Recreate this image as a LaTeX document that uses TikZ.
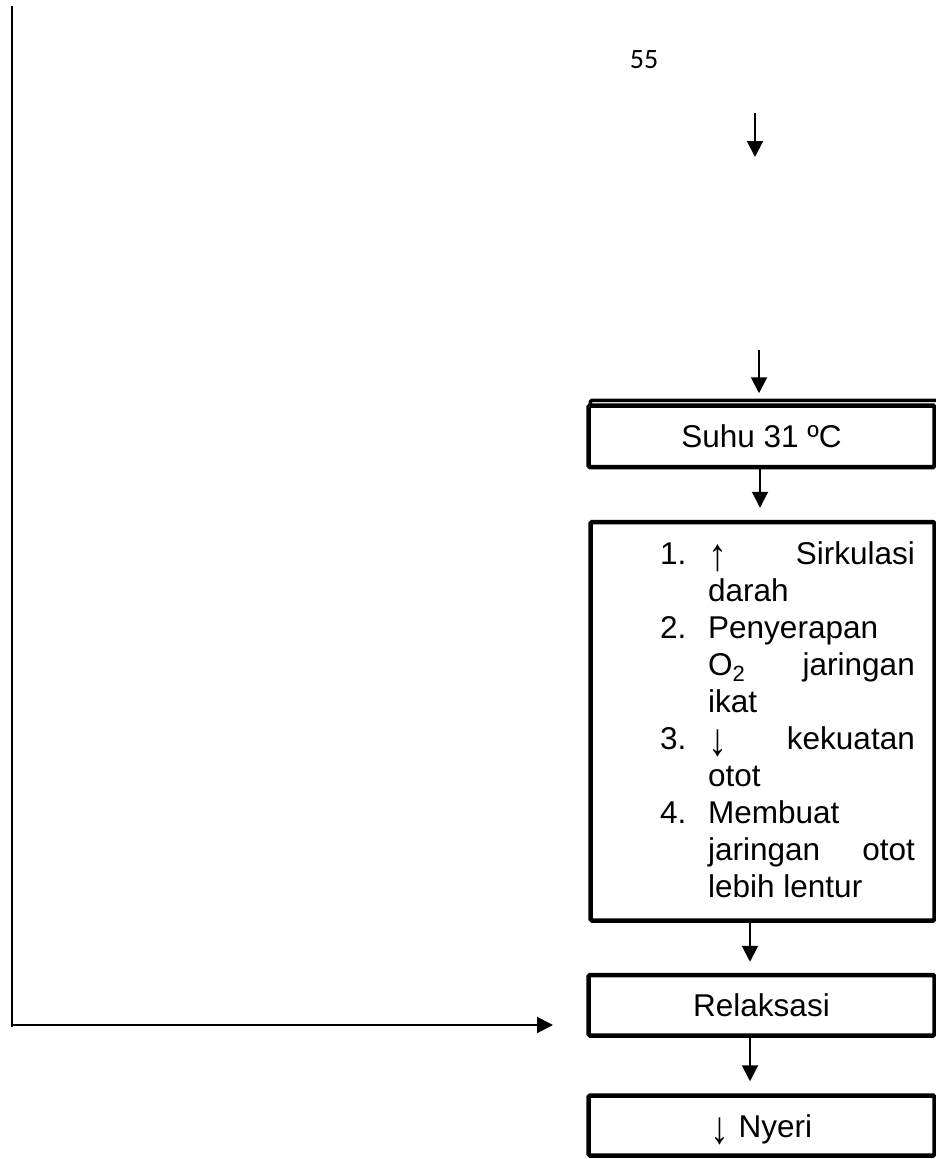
\documentclass[tikz,border=0pt]{standalone}
\usepackage{fontspec}
\setmainfont{Liberation Sans}
\newfontfamily\pagenumfont{Carlito}
\usetikzlibrary{arrows.meta,calc}
\newcommand{\uparr}{\raisebox{-6.5pt}{\scalebox{1.2}[1.45]{↑}}}
\newcommand{\downarr}{\raisebox{-6.5pt}{\scalebox{1.2}[1.45]{↓}}}
\tikzset{
  box/.style={draw, line width=4.5pt, rounded corners=1.5pt, inner sep=0pt,
    text height=23pt, text depth=0pt, font=\fontsize{31.5}{37}\selectfont},
  arr/.style={line width=2pt, -{Triangle[width=16pt,length=16pt]}},
  plain/.style={line width=2pt},
  ltxt/.style={inner sep=0pt, anchor=base west, font=\fontsize{31.5}{37}\selectfont},
  rtxt/.style={inner sep=0pt, anchor=base east, font=\fontsize{31.5}{37}\selectfont}
}
\begin{document}
\begin{tikzpicture}[x=1pt,y=-1pt]
\useasboundingbox (0,0) rectangle (936,1159);
\fill[white] (0,0) rectangle (936,1159);

% page number
\node[inner sep=0pt, anchor=base, font=\pagenumfont\fontsize{28}{30}\selectfont] (pgnum) at (644,68) {55};

% boxes
\node[box, minimum width=346pt, minimum height=61.5pt] (suhu) at (761.5,436.25) {Suhu 31 ºC};
\draw[line width=3.5pt, rounded corners=1.5pt] ($(suhu.north west)+(4,2)$) -- ($(suhu.north west)+(4,-3)$) -- ($(suhu.north east)+(12,-3)$);
\node[box, minimum width=344pt, minimum height=398.5pt] (list) at (762.5,721.25) {};
\node[box, minimum width=346pt, minimum height=60.5pt] (rel) at (761.5,1005.25) {Relaksasi};
\node[box, minimum width=346pt, minimum height=60pt] (nyeri) at (761.5,1125.5) {\downarr\ Nyeri};

% list text
\node[ltxt] (n1) at (660,564) {1.};
\node[ltxt] (t1a) at (708,564) {\uparr};
\node[rtxt] (t1b) at (915,564) {Sirkulasi};
\node[ltxt] (t2) at (708,601) {darah};
\node[ltxt] (n2) at (660,638) {2.};
\node[ltxt] (t3) at (708,638) {Penyerapan};
\node[ltxt] (t4a) at (708,675) {O\textsubscript{2}};
\node[rtxt] (t4b) at (915,675) {jaringan};
\node[ltxt] (t5) at (708,712) {ikat};
\node[ltxt] (n3) at (660,749) {3.};
\node[ltxt] (t6a) at (708,749) {\downarr};
\node[rtxt] (t6b) at (915,749) {kekuatan};
\node[ltxt] (t7) at (708,786) {otot};
\node[ltxt] (n4) at (660,823) {4.};
\node[ltxt] (t8) at (708,823) {Membuat};
\node[ltxt] (t9a) at (708,860) {jaringan};
\node[rtxt] (t9b) at (915,860) {otot};
\node[ltxt] (t10) at (708,897) {lebih lentur};

% arrows
\coordinate (c1a) at (755,113);
\coordinate (c1b) at (755,157);
\draw[arr] (c1a) -- (c1b);
\coordinate (c2) at (759,350);
\draw[arr, shorten >=10pt] (c2) -- (c2 |- suhu.north);
\draw[arr, shorten >=12pt] ([xshift=-1.5pt]suhu.south) -- ([xshift=-1.5pt]suhu.south |- list.north);
\draw[arr, shorten >=11pt] ([xshift=-12.5pt]list.south) -- ([xshift=-12.5pt]list.south |- rel.north);
\draw[arr, shorten >=12pt] ([xshift=-11.5pt]rel.south) -- ([xshift=-11.5pt]rel.south |- nyeri.north);

% left feedback line
\coordinate (lt) at (12,6);
\coordinate (lb) at (12,1027);
\coordinate (lh) at (12,1025);
\coordinate (lend) at (553,1025);
\draw[plain] (lt) -- (lb);
\draw[arr] (lh) -- (lend);
\end{tikzpicture}
\end{document}
